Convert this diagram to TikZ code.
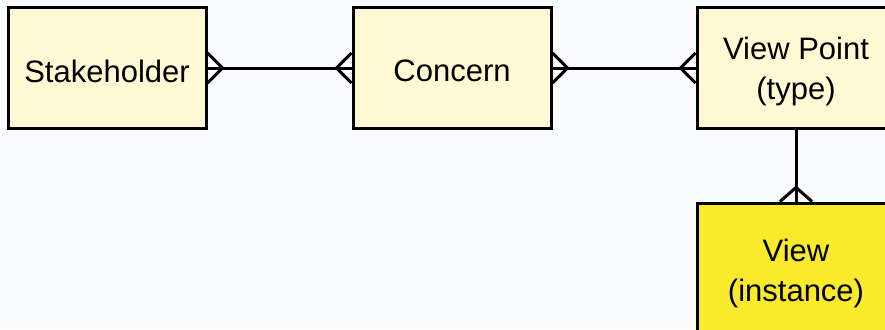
\documentclass[tikz,border=0pt]{standalone}
\usepackage{fontspec}
\setmainfont{Liberation Sans}
\usetikzlibrary{calc}
\definecolor{bg}{RGB}{250,251,255}
\definecolor{cream}{RGB}{255,249,212}
\definecolor{viewyellow}{RGB}{249,235,44}
\tikzset{
  entity/.style={draw=black, line width=3pt, fill=cream, minimum width=198pt,
    minimum height=120pt, inner sep=0pt,
    label={[font=\fontsize{31}{40}\selectfont, align=center, yshift=-3pt]center:#1}},
  link/.style={draw=black, line width=3pt},
  foot/.style={draw=black, line width=3pt, line join=miter}
}
\begin{document}
\begin{tikzpicture}[x=1pt, y=-1pt]
  \clip (0,0) rectangle (885,329);
  \fill[bg] (0,0) rectangle (885,329);

  % entities
  \node[entity={Stakeholder}] (sh)  at (107,68) {};
  \node[entity={Concern}] (con) at (452,68) {};
  \node[entity={View Point\\(type)}] (vp) at (796,68) {};
  \node[entity={View\\(instance)}, fill=viewyellow, minimum height=134pt] (vw) at (796,270) {};

  % relationships
  \draw[link] (sh.east) -- (con.west);
  \draw[link] (con.east) -- (vp.west);
  \draw[link] (vp.south) -- (vw.north);

  % crow's feet (many side)
  \draw[foot] ($(sh.east)+(0,-15)$) -- ($(sh.east)+(15,0)$) -- ($(sh.east)+(0,15)$);
  \draw[foot] ($(con.west)+(0,-15)$) -- ($(con.west)+(-15,0)$) -- ($(con.west)+(0,15)$);
  \draw[foot] ($(con.east)+(0,-15)$) -- ($(con.east)+(15,0)$) -- ($(con.east)+(0,15)$);
  \draw[foot] ($(vp.west)+(0,-15)$) -- ($(vp.west)+(-15,0)$) -- ($(vp.west)+(0,15)$);
  \draw[foot] ($(vw.north)+(-16,0)$) -- ($(vw.north)+(0,-14)$) -- ($(vw.north)+(16,0)$);
\end{tikzpicture}
\end{document}
